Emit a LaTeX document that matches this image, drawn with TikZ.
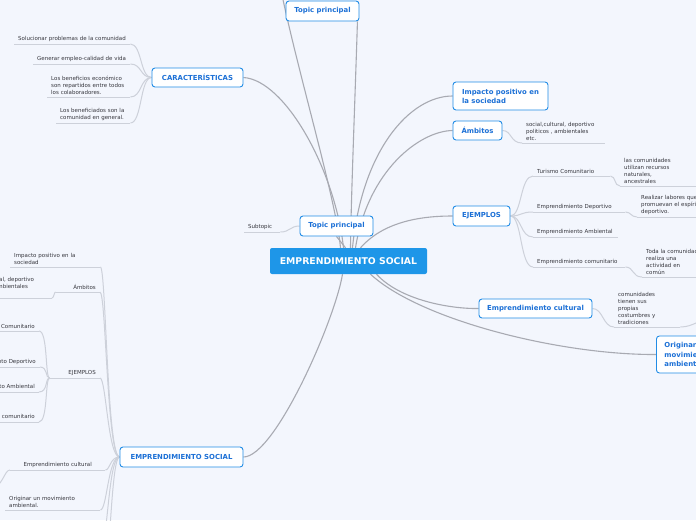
\documentclass[tikz,border=0pt]{standalone}
\usepackage{fontspec}
\setmainfont{DejaVu Sans}
\pgfdeclarelayer{back}
\pgfdeclarelayer{links}
\pgfsetlayers{back,links,main}
\definecolor{bgc}{RGB}{243,246,253}
\definecolor{tborder}{RGB}{33,140,230}
\definecolor{ttext}{RGB}{28,112,214}
\definecolor{cfill}{RGB}{30,150,232}
\definecolor{mline}{RGB}{168,170,178}
\definecolor{lline}{RGB}{205,209,218}
\definecolor{stext}{RGB}{55,55,62}
\begin{document}
\begin{tikzpicture}[x=1pt,y=-1pt,
  topic/.style={draw=tborder, fill=white, line width=0.9pt, rounded corners=3pt, text=ttext,
    font=\fontsize{6.9}{9}\selectfont\bfseries, align=left, inner sep=0pt},
  sub/.style={font=\fontsize{5.5}{7}\selectfont, text=stext, inner xsep=4pt, inner ysep=2pt, align=left},
  uline/.style={draw=lline, line width=1pt},
  mainlink/.style={draw=mline, line width=1.1pt},
  link/.style={draw=lline, line width=1pt}]
\useasboundingbox (0,0) rectangle (696,520);
\begin{pgfonlayer}{back}
  \fill[bgc] (0,0) rectangle (696,520);
\end{pgfonlayer}

% main topics
\node[fill=cfill, rounded corners=2pt, minimum width=157pt, minimum height=26pt, inner sep=0pt,
  text=white, font=\fontsize{9.3}{10}\selectfont\bfseries] (C) at (348.5,261) {EMPRENDIMIENTO SOCIAL};
\node[topic, minimum width=73pt, minimum height=20pt] (T1) at (322.5,11) {Topic principal};
\node[topic, minimum width=91pt, minimum height=19pt] (CAR) at (197.5,77.5) {CARACTERÍSTICAS};
\node[topic, minimum width=73pt, minimum height=20pt] (T2) at (336.5,226) {Topic principal};
\node[topic, minimum width=95pt, minimum height=28pt] (IMP) at (500.5,96) {Impacto positivo en\\la sociedad};
\node[topic, minimum width=49pt, minimum height=19pt] (AMB) at (477.5,130.5) {Ámbitos};
\node[topic, minimum width=57pt, minimum height=20pt] (EJ) at (481.5,216) {EJEMPLOS};
\node[topic, minimum width=113pt, minimum height=19pt] (CUL) at (535.5,308.5) {Emprendimiento cultural};
\node[topic, minimum height=37pt, inner xsep=8pt, anchor=west, font=\fontsize{6.9}{9.5}\selectfont\bfseries] (ORI) at (656,354.5) {Originar un\\movimiento\\ambiental.};
\node[topic, minimum width=123pt, minimum height=20pt] (B) at (181.5,457) {EMPRENDIMIENTO SOCIAL};

% subtopics of CARACTERISTICAS
\node[sub, text width=108pt, anchor=south west] (s1) at (14,44) {Solucionar problemas de la comunidad};
\node[sub, text width=89pt, anchor=south west] (s2) at (33,64) {Generar empleo-calidad de vida};
\node[sub, text width=75pt, anchor=south west] (s3) at (47,97) {Los beneficios económico\\son repartidos entre todos\\los colaboradores.};
\node[sub, text width=66pt, anchor=south west] (s4) at (56,123) {Los beneficiados son la\\comunidad en general.};
\node[sub, text width=28pt, anchor=south west] (s5) at (244,232) {Subtopic};

% right side subtopics
\node[sub, text width=75pt, anchor=south west] (a1) at (522,143) {social,cultural, deportivo\\politicos , ambientales\\etc.};
\node[sub, text width=69pt, anchor=south west] (e1) at (533,176) {Turismo Comunitario};
\node[sub, text width=84pt, anchor=south west] (e2) at (533,212) {Emprendimiento Deportivo};
\node[sub, text width=77pt, anchor=south west] (e3) at (533,237) {Emprendimiento Ambiental};
\node[sub, text width=84pt, anchor=south west] (e4) at (533,267) {Emprendimiento comunitario};
\node[sub, text width=82pt, anchor=south west] (t1) at (620,186) {las comunidades\\utilizan recursos\\naturales,\\ancestrales};
\node[sub, text width=72pt, anchor=south west] (d1) at (637,217) {Realizar labores que\\promuevan el espíritu\\deportivo.};
\node[sub, text width=62pt, anchor=south west] (c1) at (642,277) {Toda la comunidad\\realiza una\\actividad en\\común};
\node[sub, text width=58pt, anchor=south west] (k1) at (614,327) {comunidades\\tienen sus\\propias\\costumbres y\\tradiciones};

% left side subtopics of bottom EMPRENDIMIENTO SOCIAL
\node[sub, text width=82pt, anchor=south west] (L1) at (10,267) {Impacto positivo en la\\sociedad};
\node[sub, text width=36pt, anchor=south east, align=right] (L2) at (100,292) {Ámbitos};
\node[sub, text width=82pt, anchor=south east] (L2c) at (52,298) {social,cultural, deportivo\\politicos , ambientales\\etc.};
\node[sub, text width=42pt, anchor=south east, align=right] (L3) at (100,378) {EJEMPLOS};
\node[sub, text width=60pt, anchor=south east, align=right] (LE1) at (39,331) {Turismo Comunitario};
\node[sub, text width=80pt, anchor=south east, align=right] (LE2) at (40,367) {Emprendimiento Deportivo};
\node[sub, text width=80pt, anchor=south east, align=right] (LE3) at (39,392) {Emprendimiento Ambiental};
\node[sub, text width=84pt, anchor=south east, align=right] (LE4) at (39,422) {Emprendimiento comunitario};
\node[sub, text width=87pt, anchor=south west, align=center] (L4) at (10,470) {Emprendimiento cultural};
\node[sub, text width=87pt, anchor=south west] (L5) at (5,510) {Originar un movimiento\\ambiental.};

% off-canvas continuation points
\coordinate (offTop) at (282,-5);
\coordinate (offB1) at (100,548);
\coordinate (offB2) at (100,600);
\coordinate (offL4) at (-12,492);
\coordinate (offK1) at (715,318);

\begin{pgfonlayer}{links}
  % underlines
  \foreach \n in {s1,s2,s3,s4,s5,a1,e1,e2,e3,e4,t1,d1,c1,k1,L1,L2,L2c,L3,LE1,LE2,LE3,LE4,L4,L5}
    \draw[uline] (\n.south west) -- (\n.south east);
  % main connectors
  \draw[mainlink] (offTop) .. controls (300,80) and (336,200) .. ([xshift=-8pt]C.north);
  \draw[mainlink] ([xshift=-2pt]T1.south east) .. controls (355,100) and (351,200) .. ([xshift=2pt]C.north);
  \draw[mainlink] (CAR.east) .. controls (285,80) and (335,170) .. ([xshift=-5pt]C.north);
  \draw[mainlink] (T2.south) -- ([xshift=-3pt]C.north);
  \draw[mainlink] ([xshift=4pt]C.north) .. controls (362,150) and (410,96) .. (IMP.west);
  \draw[mainlink] ([xshift=7pt]C.north) .. controls (368,170) and (420,131) .. (AMB.west);
  \draw[mainlink] ([xshift=12pt]C.north) .. controls (385,220) and (425,216) .. (EJ.west);
  \draw[mainlink] ([xshift=28pt]C.south) .. controls (400,300) and (450,309) .. (CUL.west);
  \draw[mainlink] ([xshift=22pt]C.south) .. controls (420,320) and (560,355) .. (ORI.west);
  \draw[mainlink] (B.east) .. controls (275,457) and (335,320) .. ([xshift=-6pt]C.south);
  % CARACTERISTICAS children
  \foreach \n in {s1,s2,s3,s4}
    \draw[link] (CAR.west) .. controls (140,77.5) and (142,0|-\n.south east) .. (\n.south east);
  \draw[link] (T2.west) .. controls (290,226) and (290,232) .. (s5.south east);
  % right side
  \draw[link] (AMB.east) .. controls (512,130.5) and (510,143) .. (a1.south west);
  \draw[link] (EJ.east) .. controls (522,216) and (520,176) .. (e1.south west);
  \draw[link] (EJ.east) .. controls (522,216) and (520,212) .. (e2.south west);
  \draw[link] (EJ.east) .. controls (522,216) and (520,237) .. (e3.south west);
  \draw[link] (EJ.east) .. controls (522,216) and (520,267) .. (e4.south west);
  \draw[link] (e1.south east) .. controls (616,176) and (614,186) .. (t1.south west);
  \draw[link] (e2.south east) .. controls (631,212) and (631,217) .. (d1.south west);
  \draw[link] (e4.south east) .. controls (634,267) and (632,277) .. (c1.south west);
  \draw[link] (CUL.east) .. controls (603,308.5) and (603,327) .. (k1.south west);
  \draw[link] (k1.south east) .. controls (694,327) and (700,318) .. (offK1);
  % left side
  \draw[link] (B.west) .. controls (107,457) and (106,267) .. (L1.south east);
  \draw[link] (B.west) .. controls (107,457) and (106,292) .. (L2.south east);
  \draw[link] (B.west) .. controls (108,457) and (106,378) .. (L3.south east);
  \draw[link] (B.west) .. controls (110,457) and (110,470) .. (L4.south east);
  \draw[link] (B.west) .. controls (108,457) and (107,510) .. (L5.south east);
  \draw[link] (B.west) .. controls (108,457) and (108,548) .. (offB1);
  \draw[link] (B.west) .. controls (110,457) and (110,600) .. (offB2);
  \draw[link] (L2.south west) .. controls (54,292) and (54,298) .. (L2c.south east);
  \foreach \n in {LE1,LE2,LE3,LE4}
    \draw[link] (L3.south west) .. controls (45,378) and (48,0|-\n.south east) .. (\n.south east);
  \draw[link] (L4.south west) .. controls (4,470) and (4,486) .. (offL4);
\end{pgfonlayer}
\end{tikzpicture}
\end{document}
